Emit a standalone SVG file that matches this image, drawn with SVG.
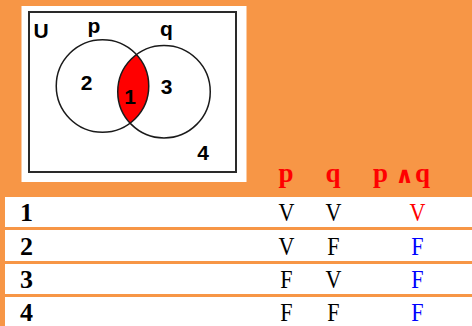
<svg xmlns="http://www.w3.org/2000/svg" width="472" height="326" viewBox="0 0 472 326">
  <style>
    .vl { font-family: "Liberation Sans", Arial, sans-serif; font-weight: bold; font-size: 21px; fill: #000; text-anchor: middle; }
    .hd { font-family: "Liberation Serif", "Times New Roman", serif; font-weight: bold; font-size: 27px; fill: #ff0000; }
    .num { font-family: "Liberation Serif", "Times New Roman", serif; font-weight: bold; font-size: 26px; fill: #000; }
    .val { font-family: "Liberation Serif", "Times New Roman", serif; font-size: 26px; text-anchor: middle; }
    .row { fill: #ffffff; }
    .circ { fill: none; stroke: #1a1a1a; stroke-width: 1.5; }
  </style>
  <rect x="0" y="0" width="472" height="326" fill="#F79646"/>

  <g id="venn">
    <rect x="21.5" y="6" width="225" height="176" fill="#ffffff"/>
    <rect x="29" y="12" width="207" height="160" fill="none" stroke="#2a2a2a" stroke-width="2"/>
    <path id="lens" d="M136.4 54.6 A46.25 46.25 0 0 1 130.1 123.1 A46.25 46.25 0 0 1 136.4 54.6 Z" fill="#ff0000"/>
    <circle id="circle-p" class="circ" cx="102.5" cy="86" r="46.25"/>
    <circle id="circle-q" class="circ" cx="164" cy="91.7" r="46.25"/>
    <text class="vl" x="41" y="37.5">U</text>
    <text class="vl" x="94" y="33">p</text>
    <text class="vl" x="166.5" y="35.5">q</text>
    <text class="vl" x="86.5" y="89.5">2</text>
    <text class="vl" x="166.5" y="93.5">3</text>
    <text class="vl" x="130" y="104">1</text>
    <text class="vl" x="203" y="159.5">4</text>
  </g>

  <g id="header">
    <text class="hd" x="286" y="182" text-anchor="middle">p</text>
    <text class="hd" x="333" y="182" text-anchor="middle">q</text>
    <text class="hd" x="373" y="182">p</text>
    <text x="404.5" y="182.5" text-anchor="middle" font-family="DejaVu Sans, sans-serif" font-weight="bold" font-size="23" fill="#ff0000">∧</text>
    <text class="hd" x="415" y="182">q</text>
  </g>

  <g id="rows">
    <rect class="row" x="5" y="197" width="467" height="30"/>
    <rect class="row" x="5" y="230" width="467" height="31"/>
    <rect class="row" x="5" y="264" width="467" height="30"/>
    <rect class="row" x="5" y="297" width="467" height="29"/>
  </g>

  <g id="row1">
    <text class="num" x="20" y="221">1</text>
    <text class="val" transform="translate(286.5 221) scale(0.85 1)" fill="#000">V</text>
    <text class="val" transform="translate(333.5 221) scale(0.85 1)" fill="#000">V</text>
    <text class="val" transform="translate(417.5 221) scale(0.85 1)" fill="#ff0000">V</text>
  </g>
  <g id="row2">
    <text class="num" x="20" y="254.5">2</text>
    <text class="val" transform="translate(286.5 254.5) scale(0.85 1)" fill="#000">V</text>
    <text class="val" transform="translate(333.5 254.5) scale(0.85 1)" fill="#000">F</text>
    <text class="val" transform="translate(417.5 254.5) scale(0.85 1)" fill="#0000ff">F</text>
  </g>
  <g id="row3">
    <text class="num" x="20" y="288">3</text>
    <text class="val" transform="translate(286.5 288) scale(0.85 1)" fill="#000">F</text>
    <text class="val" transform="translate(333.5 288) scale(0.85 1)" fill="#000">V</text>
    <text class="val" transform="translate(417.5 288) scale(0.85 1)" fill="#0000ff">F</text>
  </g>
  <g id="row4">
    <text class="num" x="20" y="321">4</text>
    <text class="val" transform="translate(286.5 321) scale(0.85 1)" fill="#000">F</text>
    <text class="val" transform="translate(333.5 321) scale(0.85 1)" fill="#000">F</text>
    <text class="val" transform="translate(417.5 321) scale(0.85 1)" fill="#0000ff">F</text>
  </g>
  <g id="connectors"/>
</svg>
